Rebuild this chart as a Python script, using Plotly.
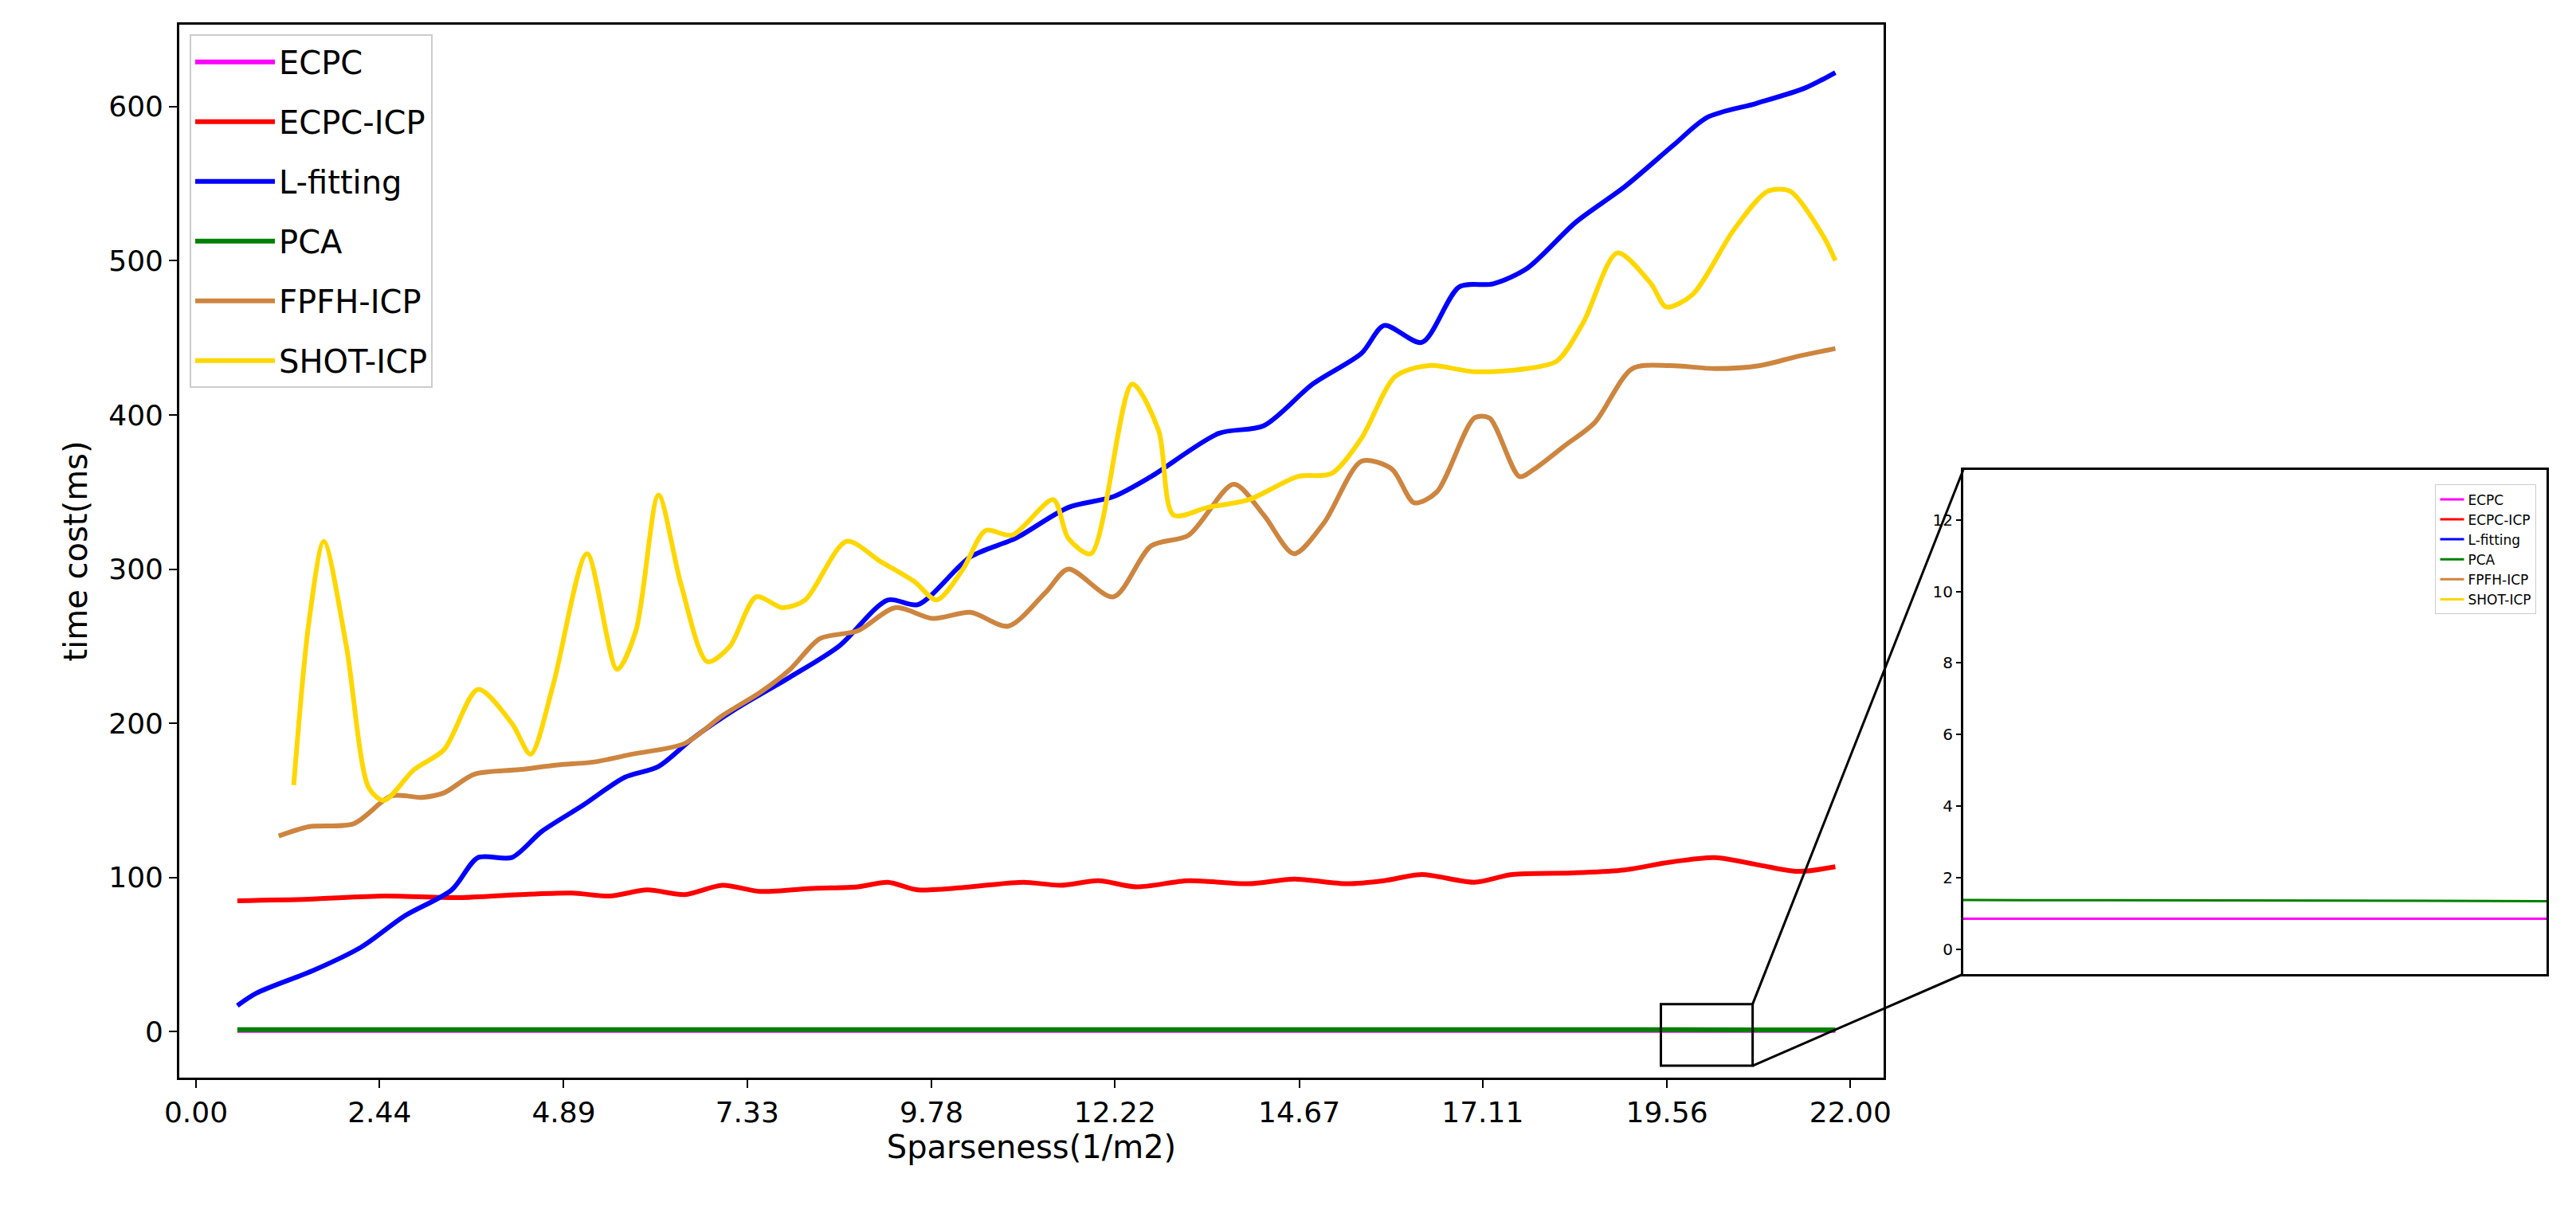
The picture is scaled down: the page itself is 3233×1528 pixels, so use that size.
import plotly.graph_objects as go

tick_vals = [0.00, 2.44, 4.89, 7.33, 9.78, 12.22, 14.67, 17.11, 19.56, 22.00]
tick_text = ["0.00", "2.44", "4.89", "7.33", "9.78", "12.22", "14.67", "17.11", "19.56", "22.00"]

ecpc_x = [0.55, 5, 10, 15, 20, 21.8]
ecpc_y = [0.86, 0.86, 0.85, 0.85, 0.85, 0.85]
pca_x = [0.55, 5, 10, 15, 19.5, 20.7, 21.8]
pca_y = [1.45, 1.42, 1.4, 1.38, 1.37, 1.34, 1.32]

ecpcicp_x = [0.55, 1.5, 2.5, 3.5, 4.3, 5.0, 5.5, 6.0, 6.5, 7.0, 7.5, 8.2, 8.8, 9.2, 9.6, 10.3, 11.0, 11.5, 12.0, 12.5, 13.2, 14.0, 14.6, 15.3, 15.8, 16.3, 17.0, 17.5, 18.3, 19.0, 19.6, 20.2, 20.8, 21.3, 21.8]
ecpcicp_y = [85, 86, 88, 87, 89, 90, 88, 92, 89, 95, 91, 93, 94, 97, 92, 94, 97, 95, 98, 94, 98, 96, 99, 96, 98, 102, 97, 102, 103, 105, 110, 113, 108, 104, 107]

lfit_x = [0.55, 0.8, 1.57, 2.2, 2.77, 3.4, 3.75, 4.2, 4.6, 5.15, 5.7, 6.15, 6.6, 7.2, 7.9, 8.55, 9.2, 9.6, 10.3, 10.9, 11.6, 12.2, 12.7, 13.6, 14.2, 14.85, 15.5, 15.8, 16.3, 16.8, 17.25, 17.7, 18.35, 19.0, 19.65, 20.1, 20.75, 21.4, 21.8]
lfit_y = [17, 25, 40, 55, 75, 92, 113, 113, 130, 147, 165, 172, 190, 210, 230, 250, 280, 277, 308, 320, 340, 347, 360, 388, 393, 420, 440, 458, 447, 483, 485, 495, 525, 548, 575, 593, 602, 612, 622]

fpfh_x = [1.1, 1.5, 2.1, 2.6, 3.0, 3.3, 3.7, 4.3, 4.8, 5.3, 5.8, 6.5, 7.0, 7.5, 7.9, 8.3, 8.8, 9.3, 9.8, 10.3, 10.8, 11.3, 11.6, 12.2, 12.7, 13.2, 13.8, 14.2, 14.6, 15.0, 15.5, 15.9, 16.2, 16.5, 17.0, 17.2, 17.6, 17.8, 18.2, 18.6, 19.1, 19.6, 20.2, 20.8, 21.3, 21.8]
fpfh_y = [127, 133, 135, 153, 152, 155, 167, 170, 173, 175, 180, 187, 205, 220, 235, 255, 260, 275, 268, 272, 263, 285, 300, 282, 315, 322, 355, 335, 310, 330, 370, 365, 343, 350, 398, 398, 360, 365, 380, 395, 430, 432, 430, 432, 438, 443]

shot_x = [1.3, 1.5, 1.7, 2.0, 2.3, 2.5, 2.9, 3.3, 3.75, 4.2, 4.45, 4.75, 5.2, 5.6, 5.85, 6.15, 6.45, 6.8, 7.1, 7.45, 7.8, 8.1, 8.65, 9.1, 9.55, 9.85, 10.2, 10.5, 10.85, 11.4, 11.6, 11.9, 12.45, 12.8, 13.0, 13.45, 14.0, 14.65, 15.1, 15.5, 15.95, 16.4, 17.0, 17.7, 18.1, 18.45, 18.9, 19.35, 19.55, 19.9, 20.45, 20.9, 21.2, 21.65, 21.8]
shot_y = [160, 265, 318, 250, 158, 150, 170, 183, 222, 200, 180, 225, 310, 235, 260, 348, 290, 240, 250, 282, 275, 280, 318, 305, 292, 280, 300, 325, 322, 345, 320, 310, 420, 390, 335, 340, 345, 360, 362, 385, 425, 432, 428, 430, 435, 460, 505, 485, 470, 478, 520, 545, 545, 515, 500]

series = [
    ("ECPC", ecpc_x, ecpc_y, "#ff00ff"),
    ("ECPC-ICP", ecpcicp_x, ecpcicp_y, "#ff0000"),
    ("L-fitting", lfit_x, lfit_y, "#0000ff"),
    ("PCA", pca_x, pca_y, "#008000"),
    ("FPFH-ICP", fpfh_x, fpfh_y, "#cd853f"),
    ("SHOT-ICP", shot_x, shot_y, "#ffd700"),
]

W, H = 3233, 1528
X_RANGE = [-0.22, 22.44]
Y_RANGE = [-29.7, 653]
IN_X = [19.48, 20.7]
IN_Y = [-0.7, 13.4]
main_dx = [200 / W, 2358 / W]
main_dy = [1 - 1345 / H, 1 - 23 / H]
in_dx = [2459 / W, 3198 / W]
in_dy = [1 - 1215 / H, 1 - 582 / H]

fig = go.Figure()
for i, (name, xs, ys, col) in enumerate(series):
    fig.add_trace(go.Scatter(x=xs, y=ys, name=name, mode="lines",
                             line=dict(color=col, width=6, shape="spline", smoothing=0.8),
                             xaxis="x", yaxis="y", legend="legend", legendgroup="g%d" % i))
for name, xs, ys, col in series:
    fig.add_trace(go.Scatter(x=xs, y=ys, name=name, mode="lines",
                             line=dict(color=col, width=3, shape="spline", smoothing=0.8),
                             xaxis="x2", yaxis="y2", legend="legend2"))

font_main = dict(family="DejaVu Sans", size=36, color="black")
axis_common = dict(showgrid=False, zeroline=False, showline=True, linecolor="black", linewidth=3, mirror=True,
                   ticks="outside", ticklen=10, tickwidth=2, tickcolor="black")

def px_x(v):
    return main_dx[0] + (v - X_RANGE[0]) / (X_RANGE[1] - X_RANGE[0]) * (main_dx[1] - main_dx[0])

def px_y(v):
    return main_dy[0] + (v - Y_RANGE[0]) / (Y_RANGE[1] - Y_RANGE[0]) * (main_dy[1] - main_dy[0])

bx0, bx1, by0, by1 = 19.48, 20.7, -22, 18
shapes = [
    dict(type="rect", xref="x", yref="y", x0=bx0, x1=bx1, y0=by0, y1=by1, line=dict(color="black", width=3)),
    dict(type="line", xref="paper", yref="paper", x0=px_x(bx1), y0=px_y(by1), x1=in_dx[0], y1=in_dy[1], line=dict(color="black", width=3)),
    dict(type="line", xref="paper", yref="paper", x0=px_x(bx1), y0=px_y(by0), x1=in_dx[0], y1=in_dy[0], line=dict(color="black", width=3)),
]

fig.update_layout(
    width=W, height=H, margin=dict(l=0, r=0, t=0, b=0), plot_bgcolor="white", paper_bgcolor="white",
    font=font_main, shapes=shapes,
    xaxis=dict(domain=main_dx, range=X_RANGE, tickvals=tick_vals, ticktext=tick_text, anchor="y",
               title=dict(text="Sparseness(1/m2)", font=dict(size=40), standoff=8), **axis_common),
    yaxis=dict(domain=main_dy, range=Y_RANGE, tickvals=[0, 100, 200, 300, 400, 500, 600], anchor="x",
               title=dict(text="time cost(ms)", font=dict(size=40), standoff=15), **axis_common),
    xaxis2=dict(domain=in_dx, range=IN_X, showticklabels=False, anchor="y2",
                **{**axis_common, "ticks": ""}),
    yaxis2=dict(domain=in_dy, range=IN_Y, tickvals=[0, 2, 4, 6, 8, 10, 12], anchor="x2",
                tickfont=dict(size=20), **{**axis_common, "ticklen": 6}),
    legend=dict(x=main_dx[0] + 0.004, y=main_dy[1] - 0.008, xanchor="left", yanchor="top",
                bgcolor="rgba(255,255,255,0.9)", bordercolor="#cccccc", borderwidth=2, font=dict(size=40),
                tracegroupgap=20, itemwidth=100),
    legend2=dict(x=in_dx[1] - 0.004, y=in_dy[1] - 0.012, xanchor="right", yanchor="top",
                 bgcolor="rgba(255,255,255,0.9)", bordercolor="#cccccc", borderwidth=1, font=dict(size=17)),
)
fig.write_html("out.html")
